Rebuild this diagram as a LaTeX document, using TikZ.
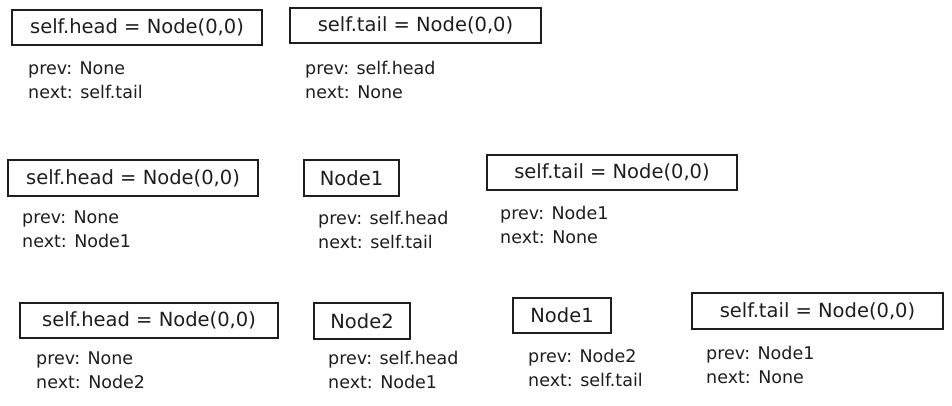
\documentclass[tikz,border=0pt]{standalone}
\usepackage{fontspec}
\setmainfont{DejaVu Sans}
\definecolor{ink}{HTML}{1E1E1E}
\begin{document}
\begin{tikzpicture}[x=1pt,y=-1pt,
  box/.style={draw=ink, line width=1.2pt, rectangle, text=ink,
    inner sep=0pt, font=\fontsize{19.5}{22}\selectfont},
  info/.style={anchor=west, align=left, text=ink, inner sep=0pt,
    font=\fontsize{17.5}{24}\selectfont}]
\fill[white] (0,0) rectangle (952,406);
\useasboundingbox (0,0) rectangle (952,406);
% row 1
\node[box, minimum width=250pt, minimum height=35pt] (a1) at (137,27.5) {self.head = Node(0,0)};
\node[box, minimum width=251pt, minimum height=35pt] (b1) at (415.5,25.5) {self.tail = Node(0,0)};
\node[info] (ta1) at (28,80) {prev: None\\next: self.tail};
\node[info] (tb1) at (305,79.5) {prev: self.head\\next: None};
% row 2
\node[box, minimum width=250pt, minimum height=36pt] (c2) at (133,178) {self.head = Node(0,0)};
\node[box, minimum width=95pt, minimum height=36pt] (d2) at (351.5,178) {Node1};
\node[box, minimum width=250pt, minimum height=35pt] (e2) at (612,172.5) {self.tail = Node(0,0)};
\node[info] (tc2) at (22,229) {prev: None\\next: Node1};
\node[info] (td2) at (318,230) {prev: self.head\\next: self.tail};
\node[info] (te2) at (500,224.5) {prev: Node1\\next: None};
% row 3
\node[box, minimum width=258pt, minimum height=35pt] (f3) at (149,320.5) {self.head = Node(0,0)};
\node[box, minimum width=96pt, minimum height=36pt] (g3) at (362,321) {Node2};
\node[box, minimum width=98pt, minimum height=35pt] (h3) at (562,315.5) {Node1};
\node[box, minimum width=251pt, minimum height=36pt] (i3) at (817.5,311) {self.tail = Node(0,0)};
\node[info] (tf3) at (36,370) {prev: None\\next: Node2};
\node[info] (tg3) at (328,370) {prev: self.head\\next: Node1};
\node[info] (th3) at (528,367.5) {prev: Node2\\next: self.tail};
\node[info] (ti3) at (706,364.5) {prev: Node1\\next: None};
\end{tikzpicture}
\end{document}
